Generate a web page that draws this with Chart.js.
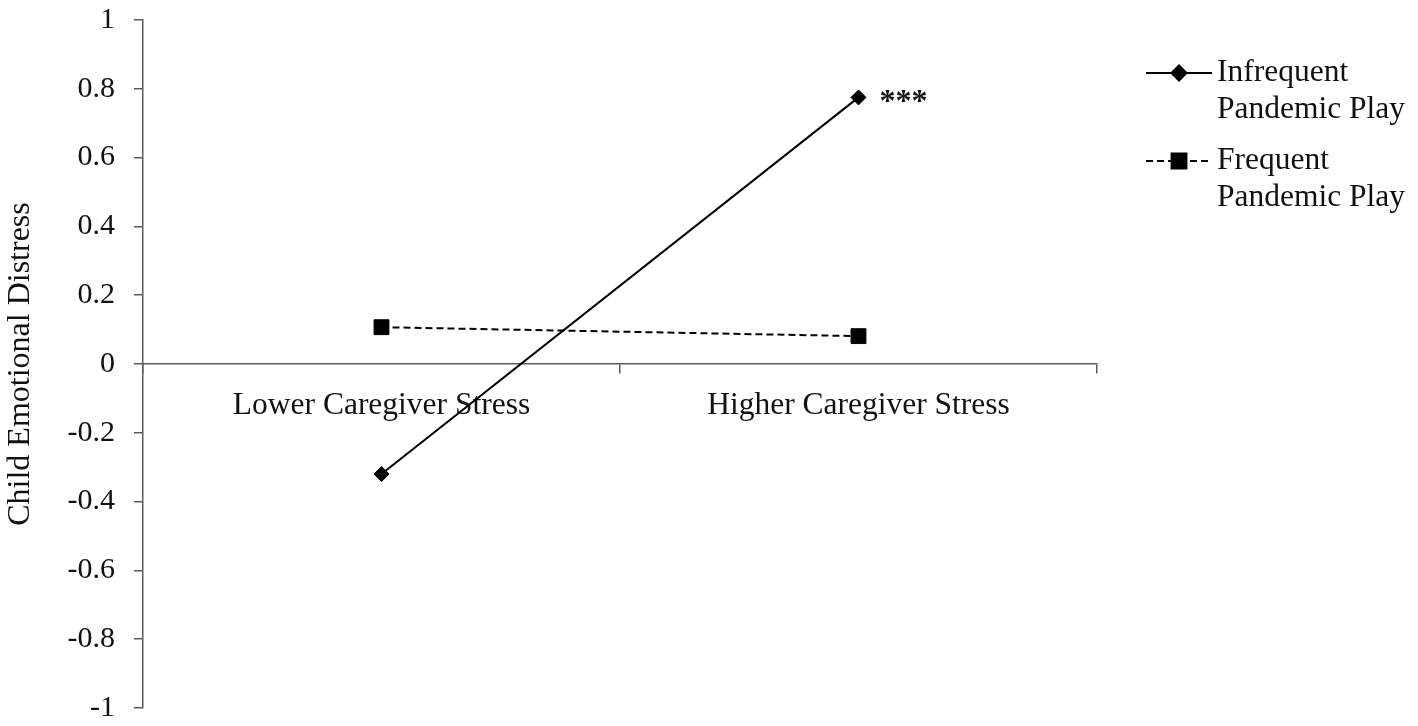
<!DOCTYPE html>
<html>
<head>
<meta charset="utf-8">
<script src="https://cdn.jsdelivr.net/npm/chart.js@4.4.0/dist/chart.umd.min.js"></script>
<style>
  html, body { margin: 0; padding: 0; background: #fff; }
  #wrap { width: 1418px; height: 726px; }
</style>
</head>
<body>
<div id="wrap"><canvas id="chart" width="1418" height="726"></canvas></div>
<script>
// Data
const categories = ['Lower Caregiver Stress', 'Higher Caregiver Stress'];
const seriesNames = [['Infrequent', 'Pandemic Play'], ['Frequent', 'Pandemic Play']];
const infrequentPlay = [-0.32, 0.775];
const frequentPlay = [0.107, 0.081];
const yTickLabels = ['-1', '-0.8', '-0.6', '-0.4', '-0.2', '0', '0.2', '0.4', '0.6', '0.8', '1'];
const significance = '***';

const FONT = '"Liberation Serif", "Times New Roman", serif';
const AXIS_COLOR = '#5a5a5a';

// Custom legend + significance stars
const extrasPlugin = {
    id: 'extras',
    afterDatasetsDraw(chart) {
        const ctx = chart.ctx;
        ctx.save();
        ctx.fillStyle = '#111';

        // stars next to the last infrequent point
        const pt = chart.getDatasetMeta(0).data[1];
        ctx.font = 'bold 32px ' + FONT;
        ctx.textBaseline = 'alphabetic';
        ctx.textAlign = 'left';
        ctx.fillText(significance, pt.x + 21, pt.y + 14);

        // legend
        ctx.font = '31.5px ' + FONT;
        const items = [
            { y: 73, dash: [], style: 'rectRot', r: 7.5 },
            { y: 161, dash: [7, 4], style: 'rect', r: 10.5 }
        ];
        items.forEach((it, i) => {
            ctx.strokeStyle = '#000';
            ctx.lineWidth = 2;
            ctx.setLineDash(it.dash);
            ctx.beginPath();
            ctx.moveTo(1146, it.y);
            ctx.lineTo(1212, it.y);
            ctx.stroke();
            ctx.setLineDash([]);
            ctx.fillStyle = '#000';
            Chart.helpers.drawPoint(ctx, { pointStyle: it.style, radius: it.r, borderWidth: 1 }, 1179, it.y);
            ctx.fill();
            ctx.fillStyle = '#111';
            ctx.textBaseline = 'middle';
            seriesNames[i].forEach((line, j) => {
                ctx.fillText(line, 1217, it.y + j * 37);
            });
        });
        ctx.restore();
    }
};

new Chart(document.getElementById('chart'), {
    type: 'line',
    data: {
        labels: categories,
        datasets: [{
            label: 'Infrequent Pandemic Play',
            data: infrequentPlay,
            borderColor: '#000',
            backgroundColor: '#000',
            borderWidth: 2,
            pointStyle: 'rectRot',
            pointRadius: 7.5,
            pointBorderWidth: 1,
            tension: 0
        }, {
            label: 'Frequent Pandemic Play',
            data: frequentPlay,
            borderColor: '#000',
            backgroundColor: '#000',
            borderWidth: 2,
            borderDash: [7, 4],
            pointStyle: 'rect',
            pointRadius: 10.5,
            pointBorderWidth: 1,
            tension: 0
        }]
    },
    options: {
        responsive: false,
        animation: false,
        layout: { padding: { top: 20, right: 321, bottom: 18, left: 0 } },
        plugins: {
            legend: { display: false },
            tooltip: { enabled: false }
        },
        scales: {
            x: {
                position: { y: 0 },
                offset: true,
                grid: {
                    offset: true,
                    drawOnChartArea: false,
                    tickLength: 9,
                    color: AXIS_COLOR,
                    lineWidth: 1.5
                },
                border: { color: AXIS_COLOR, width: 1.5 },
                ticks: {
                    color: '#111',
                    font: { family: FONT, size: 31.5 },
                    padding: 14,
                    maxRotation: 0
                }
            },
            y: {
                min: -1,
                max: 1,
                afterFit(scale) {
                    scale.width = 143;
                    scale.paddingTop = 0;
                    scale.paddingBottom = 0;
                },
                grid: {
                    drawOnChartArea: false,
                    tickLength: 9,
                    color: AXIS_COLOR,
                    lineWidth: 1.5
                },
                border: { color: AXIS_COLOR, width: 1.5 },
                ticks: {
                    stepSize: 0.2,
                    color: '#111',
                    font: { family: FONT, size: 30 },
                    padding: 19,
                    callback: (v, i) => yTickLabels[i]
                },
                title: {
                    display: true,
                    text: 'Child Emotional Distress',
                    color: '#111',
                    font: { family: FONT, size: 32 },
                    padding: { top: 1, bottom: 0 }
                }
            }
        }
    },
    plugins: [extrasPlugin]
});
</script>
</body>
</html>
